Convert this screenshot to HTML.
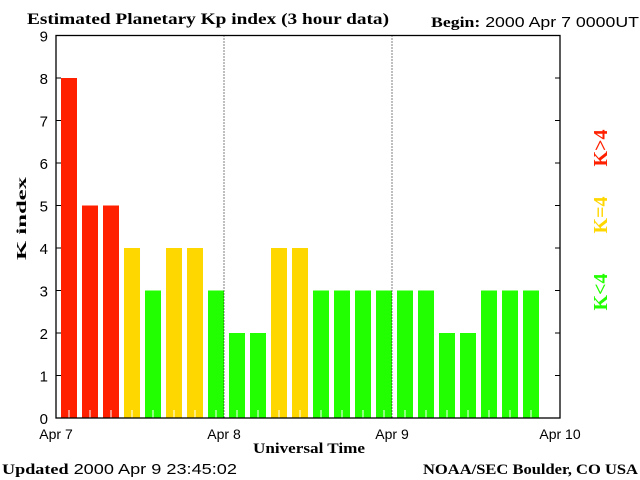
<!DOCTYPE html>
<html><head><meta charset="utf-8"><style>
body{margin:0;background:#fff;}
svg{display:block;font-family:"Liberation Sans",sans-serif;}
.t{font-family:"Liberation Serif",serif;font-weight:bold;}
</style></head><body>
<svg id="c" width="640" height="480">
<text class="t" x="27" y="24" font-size="16" textLength="362" lengthAdjust="spacingAndGlyphs">Estimated Planetary Kp index (3 hour data)</text>
<text x="431" y="27" font-size="15" textLength="208" lengthAdjust="spacingAndGlyphs"><tspan class="t">Begin:</tspan>  2000 Apr 7 0000UT</text>
<g id="bars"></g>
<g id="axes"></g>
<text class="t" x="0" y="0" font-size="14" textLength="83" lengthAdjust="spacingAndGlyphs" transform="translate(26,260) rotate(-90)">K index</text>
<text class="t" x="253" y="453" font-size="15" textLength="112" lengthAdjust="spacingAndGlyphs">Universal Time</text>
<text x="2" y="474" font-size="15" textLength="235" lengthAdjust="spacingAndGlyphs"><tspan class="t">Updated</tspan> 2000 Apr  9 23:45:02</text>
<text class="t" x="423" y="474" font-size="15" textLength="215" lengthAdjust="spacingAndGlyphs">NOAA/SEC Boulder, CO USA</text>
<text class="t" font-size="20" fill="#ff2000" text-anchor="middle" transform="translate(607,148) rotate(-90)">K&gt;4</text>
<text class="t" font-size="20" fill="#ffd700" text-anchor="middle" transform="translate(607,215) rotate(-90)">K=4</text>
<text class="t" font-size="20" fill="#22ff00" text-anchor="middle" transform="translate(607,292) rotate(-90)">K&lt;4</text>
</svg>
<script>
const kpValues = [8,5,5,4,3,4,4,3,2,2,4,4,3,3,3,3,3,3,2,2,3,3,3];
const yTicks = [0,1,2,3,4,5,6,7,8,9];
const dayLabels = ["Apr 7","Apr 8","Apr 9","Apr 10"];
const NS="http://www.w3.org/2000/svg";
const X0=56,X1=560,Y0=418,YT=35.5,slots=24;
const xs=i=>X0+(X1-X0)*i/slots;
const ys=v=>Y0-(Y0-YT)*v/9;
function mk(t,a,p){const e=document.createElementNS(NS,t);for(const k in a)e.setAttribute(k,a[k]);p.appendChild(e);return e;}
const bars=document.getElementById('bars'),axes=document.getElementById('axes');
kpValues.forEach((v,i)=>{
  const col=v>4?"#ff2000":v===4?"#ffd700":"#22ff00";
  const r=mk('rect',{x:xs(i)+5,y:ys(v),width:16,height:Y0-ys(v),fill:col},bars);
  
  
  const t=mk('line',{x1:xs(i)+13,x2:xs(i)+13,y1:Y0,y2:Y0-8,stroke:"#fff","stroke-width":1},bars);
  
  
});
const f=mk('rect',{x:X0,y:YT,width:X1-X0,height:Y0-YT,fill:"none",stroke:"#000","stroke-width":1.3},axes);


dayLabels.forEach((d,i)=>{
  const x=X0+(X1-X0)*i/3;
  if(i>0&&i<3){const g=mk('line',{x1:x,x2:x,y1:YT,y2:Y0,stroke:"#000","stroke-dasharray":"1,2"},axes);
    
    }
  const t=mk('text',{x:x,y:439,"font-size":14,"text-anchor":"middle"},axes);t.textContent=d;
  
  
});
yTicks.forEach(v=>{
  const y=ys(v);
  mk('line',{x1:X0,x2:X0+5,y1:y,y2:y,stroke:"#000"},axes);
  mk('line',{x1:X1-5,x2:X1,y1:y,y2:y,stroke:"#000"},axes);
  const t=mk('text',{x:48,y:y+6,"font-size":15,"text-anchor":"end"},axes);t.textContent=v;
  
  
});
</script>
</body></html>
